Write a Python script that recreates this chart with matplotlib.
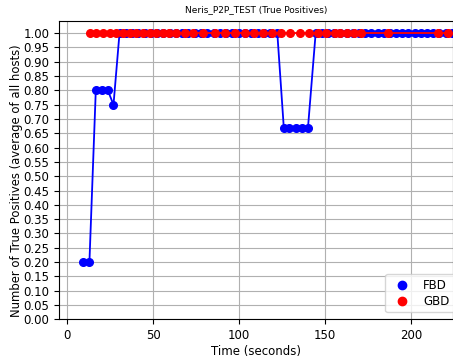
import matplotlib
matplotlib.use("Agg")
import matplotlib.pyplot as plt
from matplotlib.lines import Line2D

title = "Neris_P2P_TEST (True Positives)"
xlabel = "Time (seconds)"
ylabel = "Number of True Positives (average of all hosts)"

fbd_t = [9.5, 13.0, 16.7, 20.2, 23.7, 27.0, 30.5, 34.1, 37.8, 41.4, 45.1, 48.7, 52.4,
         56.0, 59.7, 63.3, 67.0, 70.6, 74.3, 77.9, 81.6, 85.2, 88.9, 92.5, 96.2, 99.8,
         103.5, 107.1, 110.8, 114.4, 118.1, 122.3, 126.1, 129.0, 132.9, 136.8, 140.1,
         144.6, 148.2, 151.8, 155.4, 159.0, 162.6, 166.2, 169.8, 173.4, 177.0, 180.6,
         184.2, 187.8, 191.4, 195.0, 198.6, 202.2, 205.8, 209.4, 213.0, 216.6, 220.2, 223.8]
fbd_v = [0.2, 0.2, 0.8, 0.8, 0.8, 0.75, 1.0, 1.0, 1.0, 1.0, 1.0, 1.0, 1.0,
         1.0, 1.0, 1.0, 1.0, 1.0, 1.0, 1.0, 1.0, 1.0, 1.0, 1.0, 1.0, 1.0,
         1.0, 1.0, 1.0, 1.0, 1.0, 1.0, 0.667, 0.667, 0.667, 0.667, 0.667,
         1.0, 1.0, 1.0, 1.0, 1.0, 1.0, 1.0, 1.0, 1.0, 1.0, 1.0,
         1.0, 1.0, 1.0, 1.0, 1.0, 1.0, 1.0, 1.0, 1.0, 1.0, 1.0, 1.0]

gbd_t = [13.2, 17.1, 21.0, 24.8, 28.7, 32.5, 36.4, 40.3, 44.1, 48.0, 51.8, 55.7, 59.5,
         63.4, 68.5, 73.4, 79.2, 85.9, 91.7, 97.5, 103.3, 108.5, 114.0, 119.4, 124.6,
         129.9, 135.3, 140.7, 145.9, 150.8, 155.6, 159.0, 162.8, 166.7, 170.8, 186.6,
         215.7, 221.5]
gbd_v = [1.0] * len(gbd_t)

yticks = [i / 20 for i in range(21)]
xticks = [0, 50, 100, 150, 200]

fig = plt.figure(figsize=(4.53, 3.6), dpi=100)
ax = fig.add_axes([0.131, 0.113, 0.869, 0.829])

ax.plot(fbd_t, fbd_v, color="blue", marker="o", markersize=5.5, linewidth=1.3)
ax.plot(gbd_t, gbd_v, color="red", marker="o", markersize=5.5, linewidth=1.3)

ax.set_xlim(-4.5, 224.5)
ax.set_ylim(0, 1.043)
ax.set_yticks(yticks)
ax.set_yticklabels([f"{v:.2f}" for v in yticks])
ax.set_xticks(xticks)
ax.tick_params(labelsize=8.5)
ax.grid(True, color="#b0b0b0", linewidth=0.8)

ax.set_title(title, fontsize=6.5)
ax.set_xlabel(xlabel, fontsize=8.5, labelpad=2)
ax.set_ylabel(ylabel, fontsize=8.4)
ax.yaxis.set_label_coords(-0.092, 0.465)

handles = [Line2D([], [], color="blue", marker="o", linestyle="none", markersize=6),
           Line2D([], [], color="red", marker="o", linestyle="none", markersize=6)]
ax.legend(handles, ["FBD", "GBD"], loc="lower right", fontsize=8.5,
          bbox_to_anchor=(1.003, 0.023), borderaxespad=0, labelspacing=0.25)

fig.savefig("out.png", dpi=100)
